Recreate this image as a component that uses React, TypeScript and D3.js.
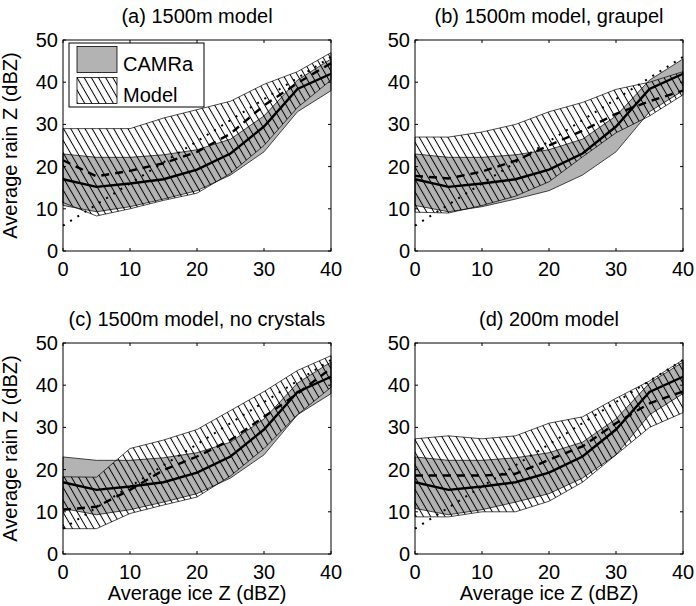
import React from "react";
import * as d3 from "d3";

// ---------- data ----------
const iceZ = [0, 5, 10, 15, 20, 25, 30, 35, 40];

// CAMRa observations (same in every panel)
const camraLow = [10.8, 9.3, 10.5, 12.3, 14.3, 18, 23.5, 33, 38];
const camraHigh = [23, 22.2, 22.2, 22.8, 24, 26.5, 32, 40.5, 45.5];
const camraMedian = [17, 15.2, 16, 17, 19.3, 23.1, 29.5, 38.4, 42];

// Model bands and medians
const modelLowA = [11.5, 8.3, 10, 12, 13.7, 18.4, 25, 34, 40.5];
const modelHighA = [29, 29, 29, 31.5, 33.5, 35.5, 39.5, 42.5, 47];
const modelMedA = [21.5, 17.7, 19, 20.8, 23.5, 27.8, 34.5, 39.8, 44.5];

const modelLowB = [9.2, 9, 10.8, 13, 16.4, 22.3, 28, 32, 37];
const modelHighB = [27, 27, 28.2, 30, 33, 35.2, 38.3, 40, 42.5];
const modelMedB = [17.8, 17.2, 18.8, 21.4, 25, 28.5, 32.5, 35.5, 38];

const modelLowC = [6, 6, 9.6, 11.6, 13.5, 18.5, 25, 33, 39.5];
const modelHighC = [18.3, 18.2, 25, 27, 29.5, 34, 38.5, 43.5, 47];
const modelMedC = [10.5, 11.2, 15.2, 19.9, 23.1, 27, 32.5, 38, 44];

const modelLowD = [8.8, 8.8, 10, 10, 12.5, 17, 23.5, 30, 33.5];
const modelHighD = [27.3, 28, 27.3, 28, 31, 32.5, 36.9, 41, 46];
const modelMedD = [18.6, 18.6, 18.6, 19, 22.3, 25.5, 31, 35.7, 38.5];

// dotted reference relation
const refX = [0, 40];
const refY = [6, 46];

const titles = [
  "(a) 1500m model",
  "(b) 1500m model, graupel",
  "(c) 1500m model, no crystals",
  "(d) 200m model",
];
const xTicks = [0, 10, 20, 30, 40];
const yTicks = [0, 10, 20, 30, 40, 50];
const legendLabels = ["CAMRa", "Model"];
const xLabel = "Average ice Z (dBZ)";
const yLabel = "Average rain Z (dBZ)";

// ---------- layout ----------
const W = 696;
const H = 606;
const FONT = "'Liberation Sans', Arial, Helvetica, sans-serif";
const FS = 20;
const GRAY = "#b3b3b3";
const panelW = 268;
const panelH = 211;
const lefts = [63, 415];
const tops = [40, 343];

const panels = [
  { low: modelLowA, high: modelHighA, med: modelMedA },
  { low: modelLowB, high: modelHighB, med: modelMedB },
  { low: modelLowC, high: modelHighC, med: modelMedC },
  { low: modelLowD, high: modelHighD, med: modelMedD },
];

function Panel({ idx }: { idx: number }) {
  const col = idx % 2;
  const row = Math.floor(idx / 2);
  const x0 = lefts[col];
  const y0 = tops[row];
  const x = d3.scaleLinear().domain([0, 40]).range([x0, x0 + panelW]);
  const y = d3.scaleLinear().domain([0, 50]).range([y0 + panelH, y0]);
  const p = panels[idx];

  const area = (lo: number[], hi: number[]) =>
    d3
      .area<number>()
      .x((d) => x(d))
      .y0((_, i) => y(lo[i]))
      .y1((_, i) => y(hi[i]))(iceZ) as string;
  const outline = (lo: number[], hi: number[]) => {
    const pts: [number, number][] = [];
    iceZ.forEach((d, i) => pts.push([x(d), y(hi[i])]));
    for (let i = iceZ.length - 1; i >= 0; i--) pts.push([x(iceZ[i]), y(lo[i])]);
    return (d3.line()(pts) as string) + "Z";
  };
  const line = (vals: number[]) =>
    d3
      .line<number>()
      .x((d) => x(d))
      .y((_, i) => y(vals[i]))(iceZ) as string;
  const refLine = d3
    .line<number>()
    .x((d) => x(d))
    .y((_, i) => y(refY[i]))(refX) as string;

  const tick = 3;
  return (
    <g>
      <text
        x={x0 + panelW / 2}
        y={y0 - 17}
        textAnchor="middle"
        fontSize={FS}
        fontFamily={FONT}
      >
        {titles[idx]}
      </text>
      {/* CAMRa band */}
      <path d={area(camraLow, camraHigh)} fill={GRAY} stroke="none" />
      <path d={outline(camraLow, camraHigh)} fill="none" stroke="#000" strokeWidth={0.7} />
      {/* Model band */}
      <path d={area(p.low, p.high)} fill="url(#hatch)" stroke="none" />
      <path d={outline(p.low, p.high)} fill="none" stroke="#000" strokeWidth={0.7} />
      {/* lines */}
      <path
        d={refLine}
        fill="none"
        stroke="#000"
        strokeWidth={2}
        strokeDasharray="2 6.5"
      />
      <path
        d={line(p.med)}
        fill="none"
        stroke="#000"
        strokeWidth={2.4}
        strokeDasharray="8 6"
      />
      <path d={line(camraMedian)} fill="none" stroke="#000" strokeWidth={2.4} />
      {/* box */}
      <rect
        x={x0}
        y={y0}
        width={panelW}
        height={panelH}
        fill="none"
        stroke="#000"
        strokeWidth={1}
      />
      {xTicks.map((t) => (
        <g key={"xt" + t}>
          <line x1={x(t)} x2={x(t)} y1={y0 + panelH} y2={y0 + panelH - tick} stroke="#000" />
          <line x1={x(t)} x2={x(t)} y1={y0} y2={y0 + tick} stroke="#000" />
          <text
            x={x(t)}
            y={y0 + panelH + 25}
            textAnchor="middle"
            fontSize={FS}
            fontFamily={FONT}
          >
            {t}
          </text>
        </g>
      ))}
      {yTicks.map((t) => (
        <g key={"yt" + t}>
          <line x1={x0} x2={x0 + tick} y1={y(t)} y2={y(t)} stroke="#000" />
          <line x1={x0 + panelW} x2={x0 + panelW - tick} y1={y(t)} y2={y(t)} stroke="#000" />
          <text
            x={x0 - 5}
            y={y(t) + 7}
            textAnchor="end"
            fontSize={FS}
            fontFamily={FONT}
          >
            {t}
          </text>
        </g>
      ))}
      {row === 1 && (
        <text
          x={x0 + panelW / 2}
          y={y0 + panelH + 46}
          textAnchor="middle"
          fontSize={FS}
          fontFamily={FONT}
        >
          {xLabel}
        </text>
      )}
      {col === 0 && (
        <text
          transform={`translate(17, ${y0 + panelH / 2}) rotate(-90)`}
          textAnchor="middle"
          fontSize={FS}
          fontFamily={FONT}
        >
          {yLabel}
        </text>
      )}
      {idx === 0 && (
        <g>
          <rect x={69} y={43} width={135} height={64} fill="#fff" stroke="#000" strokeWidth={1} />
          <rect x={77} y={46.5} width={40} height={26} fill={GRAY} stroke="#000" strokeWidth={0.8} />
          <rect x={77} y={77.5} width={40} height={26} fill="url(#hatch)" stroke="#000" strokeWidth={0.8} />
          <text x={123} y={70.5} fontSize={FS} fontFamily={FONT}>
            {legendLabels[0]}
          </text>
          <text x={123} y={101.5} fontSize={FS} fontFamily={FONT}>
            {legendLabels[1]}
          </text>
        </g>
      )}
    </g>
  );
}

export default function App() {
  return (
    <svg
      width={W}
      height={H}
      style={{ display: "block", position: "absolute", left: 0, top: 0, background: "#fff" }}
    >
      <defs>
        <pattern
          id="hatch"
          patternUnits="userSpaceOnUse"
          width={6.2}
          height={6.2}
          patternTransform="rotate(-30)"
        >
          <line x1={3.1} y1={-1} x2={3.1} y2={7.2} stroke="#000" strokeWidth={1} />
        </pattern>
      </defs>
      <rect x={0} y={0} width={W} height={H} fill="#fff" />
      {[0, 1, 2, 3].map((i) => (
        <Panel key={i} idx={i} />
      ))}
    </svg>
  );
}
